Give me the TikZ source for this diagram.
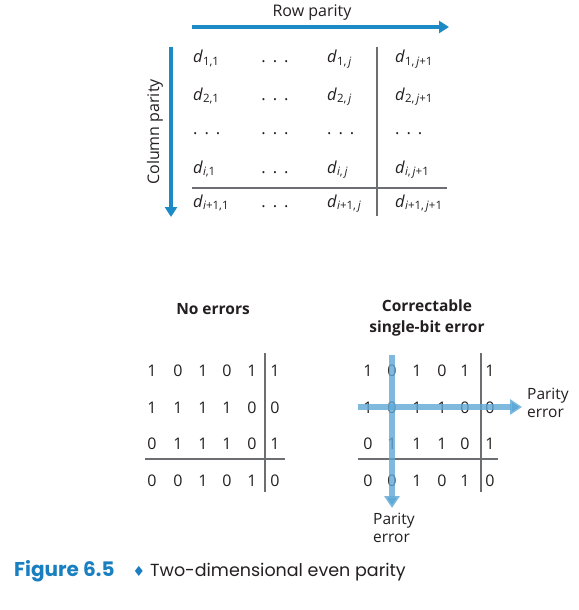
\documentclass[tikz,border=0pt]{standalone}
\usepackage{fontspec}
\setmainfont{Open Sans}
\newfontfamily\capfont{Poppins}
\newfontfamily\symfont{DejaVu Sans}
\usetikzlibrary{arrows.meta}
\usepackage{xcolor}
\definecolor{rowblue}{HTML}{1B8AC5}
\definecolor{errblue}{HTML}{5FA9D6}
\definecolor{capblue}{HTML}{1A7FC0}
\definecolor{ink}{HTML}{231F20}
\definecolor{rulegray}{HTML}{6D6E71}
\newcommand{\dsub}[1]{\textit{d}\raisebox{-2.6pt}{\fontsize{11.5}{13}\selectfont #1}}
\newcommand{\threedots}{.\hspace{0.42em}.\hspace{0.42em}.}

\begin{document}
\begin{tikzpicture}[x=1pt, y=-1pt]
\tikzset{heading/.style = {font=\fontsize{16}{19}\selectfont, text=ink, inner sep=0pt}}
\tikzset{cell/.style = {font=\fontsize{16.5}{19}\selectfont, text=ink, inner sep=0pt, anchor=base west}}
\tikzset{bit/.style = {font=\fontsize{16}{19}\selectfont, text=ink, inner sep=0pt, anchor=base}}
\tikzset{rowarrow/.style = {draw=rowblue, line width=4pt, -{Triangle[length=10pt, width=12pt]}}}
\tikzset{gridline/.style = {draw=rulegray, line width=1.2pt}}
\tikzset{errarrow/.style = {draw=errblue, draw opacity=0.8, line width=5.5pt, -{Triangle[length=12pt, width=15pt]}}}
\tikzset{errlabel/.style = {font=\fontsize{15.5}{18}\selectfont, text=ink, inner sep=0pt, align=left, anchor=west}}

\useasboundingbox (0,0) rectangle (578,610);

% general layout
\node[heading] (rowpar) at (312,13) {Row parity};
\coordinate (rowstart) at (192,27);
\coordinate (rowend) at (449,27);
\draw[rowarrow] (rowstart) -- (rowend);

\node[heading, rotate=90] (colpar) at (155,132) {Column parity};
\coordinate (colstart) at (171,47);
\coordinate (colend) at (171,217);
\draw[rowarrow] (colstart) -- (colend);

\node[cell] (d11) at (193,63) {\dsub{1,1}};
\node[cell, anchor=base] (d12) at (275,63) {\threedots};
\node[cell] (d13) at (327,63) {\dsub{1,\,\textit{j}}};
\node[cell] (d14) at (395,63) {\dsub{1,\,\textit{j}+1}};

\node[cell] (d21) at (193,100) {\dsub{2,1}};
\node[cell, anchor=base] (d22) at (275,100) {\threedots};
\node[cell] (d23) at (327,100) {\dsub{2,\,\textit{j}}};
\node[cell] (d24) at (395,100) {\dsub{2,\,\textit{j}+1}};

\node[cell] (d31) at (193,134) {\threedots};
\node[cell, anchor=base] (d32) at (275,134) {\threedots};
\node[cell] (d33) at (327,134) {\threedots};
\node[cell] (d34) at (395,134) {\threedots};

\node[cell] (d41) at (193,173) {\dsub{\textit{i},1}};
\node[cell, anchor=base] (d42) at (275,173) {\threedots};
\node[cell] (d43) at (327,173) {\dsub{\textit{i},\,\textit{j}}};
\node[cell] (d44) at (395,173) {\dsub{\textit{i},\,\textit{j}+1}};

\node[cell] (d51) at (193,207) {\dsub{\textit{i}+1,1}};
\node[cell, anchor=base] (d52) at (275,207) {\threedots};
\node[cell] (d53) at (327,207) {\dsub{\textit{i}+1,\,\textit{j}}};
\node[cell] (d54) at (395,207) {\dsub{\textit{i}+1,\,\textit{j}+1}};

\coordinate (vtop) at (377,47);
\coordinate (vbot) at (377,216);
\coordinate (hleft) at (192,188);
\coordinate (hright) at (447,188);
\draw[gridline] (vtop) -- (vbot);
\draw[gridline] (hleft) -- (hright);

% no errors
\node[heading, font=\fontsize{15.5}{19}\selectfont\bfseries] (noerr) at (213,309) {No errors};

\node[bit] (l11) at (152,376) {1}; \node[bit] (l12) at (178,376) {0}; \node[bit] (l13) at (203,376) {1};
\node[bit] (l14) at (227,376) {0}; \node[bit] (l15) at (252,376) {1}; \node[bit] (l16) at (275,376) {1};
\node[bit] (l21) at (152,413) {1}; \node[bit] (l22) at (178,413) {1}; \node[bit] (l23) at (203,413) {1};
\node[bit] (l24) at (227,413) {1}; \node[bit] (l25) at (252,413) {0}; \node[bit] (l26) at (275,413) {0};
\node[bit] (l31) at (152,449) {0}; \node[bit] (l32) at (178,449) {1}; \node[bit] (l33) at (203,449) {1};
\node[bit] (l34) at (227,449) {1}; \node[bit] (l35) at (252,449) {0}; \node[bit] (l36) at (275,449) {1};
\node[bit] (l41) at (152,486) {0}; \node[bit] (l42) at (178,486) {0}; \node[bit] (l43) at (203,486) {1};
\node[bit] (l44) at (227,486) {0}; \node[bit] (l45) at (252,486) {1}; \node[bit] (l46) at (275,486) {0};

\coordinate (lvtop) at (265,353);
\coordinate (lvbot) at (265,492);
\coordinate (lhleft) at (145,459);
\coordinate (lhright) at (285,459);
\draw[gridline] (lvtop) -- (lvbot);
\draw[gridline] (lhleft) -- (lhright);

% single-bit error
\node[heading, font=\fontsize{15.5}{21}\selectfont\bfseries, align=center] (correct) at (427,318) {Correctable\\single-bit error};

\node[bit] (r11) at (368,376) {1}; \node[bit] (r12) at (392,376) {0}; \node[bit] (r13) at (417,376) {1};
\node[bit] (r14) at (442,376) {0}; \node[bit] (r15) at (465,376) {1}; \node[bit] (r16) at (490,376) {1};
\node[bit] (r21) at (368,413) {1}; \node[bit] (r22) at (392,413) {0}; \node[bit] (r23) at (417,413) {1};
\node[bit] (r24) at (442,413) {1}; \node[bit] (r25) at (465,413) {0}; \node[bit] (r26) at (490,413) {0};
\node[bit] (r31) at (368,449) {0}; \node[bit] (r32) at (392,449) {1}; \node[bit] (r33) at (417,449) {1};
\node[bit] (r34) at (442,449) {1}; \node[bit] (r35) at (465,449) {0}; \node[bit] (r36) at (490,449) {1};
\node[bit] (r41) at (368,486) {0}; \node[bit] (r42) at (392,486) {0}; \node[bit] (r43) at (417,486) {1};
\node[bit] (r44) at (442,486) {0}; \node[bit] (r45) at (465,486) {1}; \node[bit] (r46) at (490,486) {0};

\coordinate (rvtop) at (481,353);
\coordinate (rvbot) at (481,492);
\coordinate (rhleft) at (358,459);
\coordinate (rhright) at (498,459);
\draw[gridline] (rvtop) -- (rvbot);
\draw[gridline] (rhleft) -- (rhright);

\coordinate (errrowstart) at (358,407);
\coordinate (errrowend) at (522,407);
\coordinate (errcolstart) at (392,355);
\coordinate (errcolend) at (392,508);
\draw[errarrow] (errrowstart) -- (errrowend);
\draw[errarrow] (errcolstart) -- (errcolend);

\node[errlabel] (rowerr) at (527,403) {Parity\\error};
\node[errlabel] (colerr) at (373,528) {Parity\\error};

% caption
\node[inner sep=0pt, anchor=base west, font=\fontsize{20}{24}\selectfont\capfont\bfseries, text=capblue] (fignum) at (14,576) {Figure 6.5};
\node[inner sep=0pt, font=\fontsize{14}{16}\selectfont\symfont, text=capblue] (sep) at (139,571) {♦};
\node[inner sep=0pt, anchor=base west, font=\fontsize{17.5}{21}\selectfont\capfont, text=ink] (figtext) at (150,576) {Two-dimensional even parity};
\end{tikzpicture}
\end{document}
